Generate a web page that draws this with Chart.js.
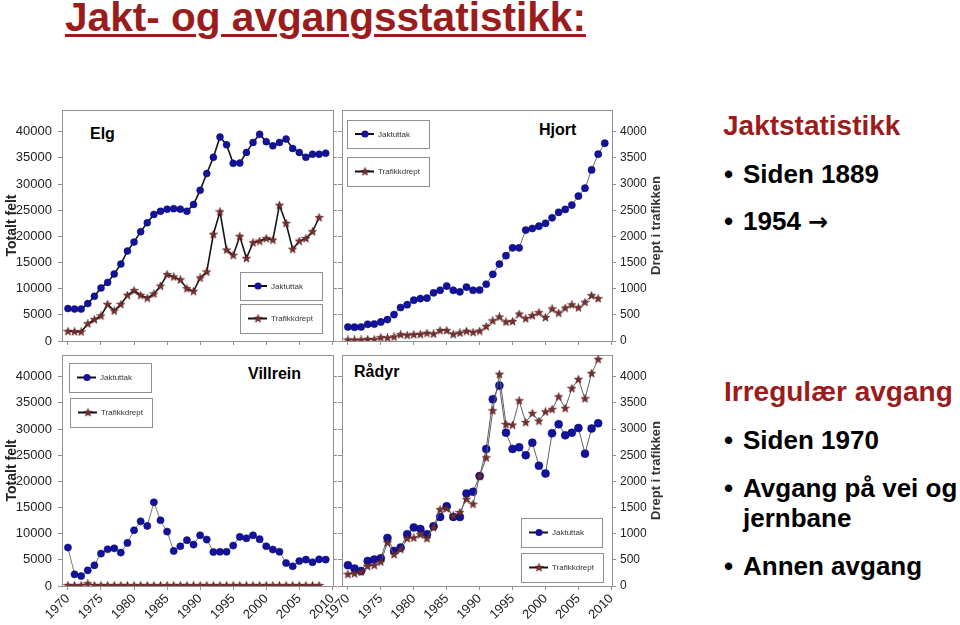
<!DOCTYPE html>
<html>
<head>
<meta charset="utf-8">
<script src="https://cdn.jsdelivr.net/npm/chart.js@4.4.1/dist/chart.umd.min.js"></script>
<style>
html, body { margin: 0; padding: 0; background: #fff; }
body { width: 960px; height: 625px; position: relative; overflow: hidden; font-family: "Liberation Sans", Arial, sans-serif; }
canvas { position: absolute; }
.t { position: absolute; white-space: nowrap; line-height: 1; font-weight: bold; color: #000; }
.red { color: #9b1c1c; }
.arrow { font-family: "DejaVu Sans", sans-serif; font-size: 24px; }
</style>
</head>
<body>
<div class="t red" style="left:65px;top:-3px;font-size:40.6px;text-decoration:underline;text-decoration-thickness:3px;text-underline-offset:3px;">Jakt- og avgangsstatistikk:</div>

<div class="t red" style="left:723px;top:112px;font-size:28px;">Jaktstatistikk</div>
<div class="t" style="left:724px;top:161px;font-size:26px;">•</div>
<div class="t" style="left:743px;top:161px;font-size:26px;">Siden 1889</div>
<div class="t" style="left:724px;top:208px;font-size:26px;">•</div>
<div class="t" style="left:743px;top:208px;font-size:26px;">1954 <span class="arrow">→</span></div>

<div class="t red" style="left:724px;top:378px;font-size:28px;">Irregulær avgang</div>
<div class="t" style="left:724px;top:427px;font-size:26px;">•</div>
<div class="t" style="left:743px;top:427px;font-size:26px;">Siden 1970</div>
<div class="t" style="left:724px;top:475px;font-size:26px;">•</div>
<div class="t" style="left:743px;top:475px;font-size:26px;">Avgang på vei og</div>
<div class="t" style="left:743px;top:505px;font-size:26px;">jernbane</div>
<div class="t" style="left:724px;top:553px;font-size:26px;">•</div>
<div class="t" style="left:743px;top:553px;font-size:26px;">Annen avgang</div>

<div class="t" style="left:90px;top:126px;font-size:16px;">Elg</div>
<div class="t" style="left:539px;top:122px;font-size:16px;">Hjort</div>
<div class="t" style="left:248px;top:366px;font-size:16px;">Villrein</div>
<div class="t" style="left:354px;top:364px;font-size:16px;">Rådyr</div>

<script>
// years on the x axis
const years = [1970, 1971, 1972, 1973, 1974, 1975, 1976, 1977, 1978, 1979,
    1980, 1981, 1982, 1983, 1984, 1985, 1986, 1987, 1988, 1989,
    1990, 1991, 1992, 1993, 1994, 1995, 1996, 1997, 1998, 1999,
    2000, 2001, 2002, 2003, 2004, 2005, 2006, 2007, 2008, 2009];

// Jaktuttak -> left axis (Totalt felt), Trafikkdrept -> right axis (Drept i trafikken)
const elgJakt = [6200, 6100, 6100, 7150, 8550, 10150, 11200, 12800, 14700, 17200,
    18900, 20900, 22600, 24200, 24800, 25200, 25300, 25200, 24800, 26100,
    28800, 32000, 35100, 39000, 37500, 33950, 34000, 36050, 37950, 39500,
    38100, 37300, 37950, 38600, 36800, 36050, 35100, 35700, 35700, 35900];
const elgTrafikk = [185, 180, 175, 330, 410, 480, 700, 575, 700, 875,
    965, 875, 820, 900, 1050, 1270, 1225, 1170, 1000, 950,
    1205, 1320, 2040, 2470, 1740, 1640, 2000, 1580, 1880, 1910,
    1960, 1930, 2595, 2250, 1755, 1910, 1960, 2090, 2360];

const hjortJakt = [2680, 2640, 2680, 3200, 3250, 3640, 4100, 5050, 6400, 6950,
    7800, 8100, 8200, 9200, 9700, 10500, 9700, 9400, 10300, 9700,
    9750, 10850, 12750, 14700, 16300, 17800, 17800, 21200, 21500, 21950,
    22500, 23550, 24600, 25150, 25970, 27700, 29200, 32700, 35700, 37800];
const hjortTrafikk = [20, 20, 20, 30, 28, 65, 60, 78, 122, 110,
    122, 128, 150, 135, 200, 200, 128, 153, 188, 165,
    190, 278, 385, 459, 364, 373, 515, 428, 485, 543,
    450, 614, 534, 630, 692, 636, 740, 868, 811];

const villreinJakt = [7350, 2240, 1910, 3000, 3960, 6200, 7020, 7200, 6390, 8230,
    10660, 12380, 11480, 16000, 12570, 10400, 6700, 7600, 8750, 7920,
    9700, 8880, 6500, 6550, 6550, 7730, 9380, 9130, 9700, 8940,
    7600, 6970, 6550, 4400, 3770, 4780, 5050, 4540, 5100, 5050];
const villreinTrafikk = [10, 10, 10, 45, 10, 10, 10, 10, 10, 10,
    10, 10, 10, 10, 10, 10, 10, 10, 10, 10,
    10, 10, 10, 10, 10, 10, 10, 10, 10, 10,
    10, 10, 10, 10, 10, 10, 10, 10, 10];

const radyrJakt = [3960, 3330, 2870, 4780, 5050, 5300, 9190, 6700, 7350, 9900,
    11180, 10900, 9900, 11430, 13200, 15250, 13200, 13200, 17700, 18000,
    21000, 26200, 35700, 38300, 29300, 26200, 26500, 25000, 27400, 23000,
    21500, 29200, 30900, 28800, 29300, 30200, 25300, 30100, 31100];
const radyrTrafikk = [224, 237, 268, 377, 396, 459, 830, 601, 702, 907,
    919, 984, 907, 1118, 1462, 1481, 1340, 1405, 1659, 1564,
    2100, 2450, 3350, 4046, 3089, 3076, 3541, 3127, 3300, 3152,
    3330, 3376, 3617, 3395, 3778, 3950, 3579, 4065, 4333];

const seriesNames = ["Jaktuttak", "Trafikkdrept"];
const leftTitle = "Totalt felt";
const rightTitle = "Drept i trafikken";
const leftTicks = [0, 5000, 10000, 15000, 20000, 25000, 30000, 35000, 40000];
const rightTicks = [0, 500, 1000, 1500, 2000, 2500, 3000, 3500, 4000];
const yearTicks = [1970, 1975, 1980, 1985, 1990, 1995, 2000, 2005, 2010];

const FONT = '"Liberation Sans", Arial, sans-serif';
Chart.defaults.font.family = FONT;
Chart.defaults.color = "#222";
Chart.defaults.animation = false;

const GRAY = "#8f8f8f";
const DOT = "#12129c";
const DOT_EDGE = "#0a0a66";

// small filled five point star for Trafikkdrept
function makeStar() {
    const c = document.createElement("canvas");
    c.width = 9; c.height = 9;
    const x = c.getContext("2d");
    x.beginPath();
    for (let i = 0; i < 10; i++) {
        const r = i % 2 ? 1.8 : 4.3;
        const a = -Math.PI / 2 + i * Math.PI / 5;
        x.lineTo(4.5 + r * Math.cos(a), 4.7 + r * Math.sin(a));
    }
    x.closePath();
    x.fillStyle = "#7a2d2d";
    x.fill();
    x.strokeStyle = "#4a1717";
    x.lineWidth = 0.6;
    x.stroke();
    return c;
}
const star = makeStar();

const frame = {
    id: "frame",
    beforeDatasetsDraw(chart) {
        const a = chart.chartArea, ctx = chart.ctx;
        ctx.save();
        ctx.strokeStyle = GRAY;
        ctx.lineWidth = 1;
        ctx.strokeRect(Math.round(a.left) + 0.5, Math.round(a.top) + 0.5,
            Math.round(a.right - a.left), Math.round(a.bottom - a.top));
        ctx.restore();
    }
};

const boxLegend = {
    id: "boxLegend",
    afterDatasetsDraw(chart, args, opts) {
        const ctx = chart.ctx;
        (opts.boxes || []).forEach((b) => {
            const ds = chart.data.datasets.find((d) => d.label === b.label);
            const cy = b.y + b.h / 2;
            ctx.save();
            ctx.fillStyle = "#fff";
            ctx.fillRect(b.x, b.y, b.w, b.h);
            ctx.strokeStyle = GRAY;
            ctx.lineWidth = 1;
            ctx.strokeRect(b.x + 0.5, b.y + 0.5, b.w, b.h);
            ctx.strokeStyle = "#111";
            ctx.lineWidth = 2;
            ctx.beginPath();
            ctx.moveTo(b.x + 8, cy);
            ctx.lineTo(b.x + 27, cy);
            ctx.stroke();
            if (ds.pointStyle === "circle") {
                ctx.beginPath();
                ctx.arc(b.x + 18, cy, 3.6, 0, Math.PI * 2);
                ctx.fillStyle = DOT;
                ctx.fill();
            } else {
                ctx.drawImage(star, b.x + 13.5, cy - 4.5);
            }
            ctx.font = "8px " + FONT;
            ctx.fillStyle = "#333";
            ctx.textBaseline = "middle";
            ctx.fillText(ds.label, b.x + 31, cy + 0.5);
            ctx.restore();
        });
    }
};

const sideTitle = {
    id: "sideTitle",
    afterDraw(chart, args, opts) {
        if (!opts.text) return;
        const a = chart.chartArea, ctx = chart.ctx;
        ctx.save();
        ctx.translate(a.right + opts.offset, (a.top + a.bottom) / 2);
        ctx.rotate(-Math.PI / 2);
        ctx.font = "bold 13px " + FONT;
        ctx.fillStyle = "#333";
        ctx.textAlign = "center";
        ctx.textBaseline = "middle";
        ctx.fillText(opts.text, 0, 0);
        ctx.restore();
    }
};

function zeroPad(s) {
    s.paddingTop = 0; s.paddingBottom = 0; s.paddingLeft = 0; s.paddingRight = 0;
}

function fixedTicks(list) {
    return (s) => { s.ticks = list.map((v) => ({ value: v })); };
}

function points(vals) {
    return vals.map((v, i) => ({ x: years[i], y: v }));
}

function panel(p) {
    const c = document.createElement("canvas");
    c.width = p.w; c.height = p.h;
    c.style.left = p.x + "px";
    c.style.top = p.y + "px";
    document.body.appendChild(c);

    const datasets = [
        {
            label: seriesNames[1],
            data: points(p.trafikk),
            yAxisID: "y2",
            order: 0,
            borderColor: p.line,
            borderWidth: p.lw,
            pointStyle: star,
            pointRadius: 4,
        },
        {
            label: seriesNames[0],
            data: points(p.jakt),
            yAxisID: "y",
            order: 1,
            borderColor: p.line,
            borderWidth: p.lw,
            pointStyle: "circle",
            pointRadius: p.dot,
            pointBackgroundColor: DOT,
            pointBorderColor: DOT_EDGE,
            pointBorderWidth: 0.5,
        },
    ];

    const tickGrid = { display: true, drawOnChartArea: false, drawTicks: true, tickLength: 4, color: GRAY };

    new Chart(c, {
        type: "line",
        data: { datasets },
        options: {
            responsive: false,
            devicePixelRatio: 1,
            layout: { padding: { top: 10, left: 0, right: 0, bottom: 0 } },
            elements: { line: { tension: 0 } },
            scales: {
                x: {
                    type: "linear",
                    min: 1969.1,
                    max: 2010.1,
                    grid: tickGrid,
                    border: { display: false },
                    afterBuildTicks: fixedTicks(yearTicks),
                    ticks: {
                        display: p.xLabels,
                        autoSkip: false,
                        minRotation: 45,
                        maxRotation: 45,
                        padding: 1,
                        color: "#222",
                        font: { size: 13 },
                        callback: (v) => String(v),
                    },
                    afterFit: (s) => { s.height = p.xH; zeroPad(s); },
                },
                y: {
                    position: "left",
                    min: 0,
                    max: 44150,
                    grid: tickGrid,
                    border: { display: false },
                    afterBuildTicks: fixedTicks(leftTicks),
                    ticks: {
                        display: p.leftLabels,
                        padding: 6,
                        color: "#222",
                        font: { size: 13 },
                        callback: (v) => String(v),
                    },
                    title: {
                        display: p.leftLabels,
                        text: leftTitle,
                        color: "#222",
                        font: { size: 14, weight: "bold" },
                        padding: { top: 4, bottom: 0 },
                    },
                    afterFit: (s) => { s.width = p.leftW; zeroPad(s); },
                },
                y2: {
                    position: "right",
                    min: 0,
                    max: 4415,
                    grid: tickGrid,
                    border: { display: false },
                    afterBuildTicks: fixedTicks(rightTicks),
                    ticks: {
                        display: p.rightLabels,
                        padding: 4,
                        color: "#222",
                        font: { size: 12 },
                        callback: (v) => String(v),
                    },
                    afterFit: (s) => { s.width = p.rightW; zeroPad(s); },
                },
            },
            plugins: {
                legend: { display: false },
                tooltip: { enabled: false },
                boxLegend: { boxes: p.boxes },
                sideTitle: { text: p.rightLabels ? rightTitle : "", offset: 44 },
            },
        },
        plugins: [frame, boxLegend, sideTitle],
    });
}

// Elg
panel({
    x: 0, y: 100, w: 340, h: 250, leftW: 62, rightW: 7, xH: 9,
    leftLabels: true, rightLabels: false, xLabels: false,
    jakt: elgJakt, trafikk: elgTrafikk, line: "#161616", lw: 1.6, dot: 3.5,
    boxes: [
        { label: seriesNames[0], x: 240, y: 172, w: 82, h: 28 },
        { label: seriesNames[1], x: 240, y: 204, w: 82, h: 29 },
    ],
});
// Hjort
panel({
    x: 335, y: 100, w: 335, h: 250, leftW: 7, rightW: 58, xH: 9,
    leftLabels: false, rightLabels: true, xLabels: false,
    jakt: hjortJakt, trafikk: hjortTrafikk, line: "#6e6e6e", lw: 1, dot: 3.6,
    boxes: [
        { label: seriesNames[0], x: 12, y: 20, w: 82, h: 28 },
        { label: seriesNames[1], x: 12, y: 57, w: 82, h: 29 },
    ],
});
// Villrein
panel({
    x: 0, y: 345, w: 340, h: 280, leftW: 62, rightW: 7, xH: 39,
    leftLabels: true, rightLabels: false, xLabels: true,
    jakt: villreinJakt, trafikk: villreinTrafikk, line: "#7a7470", lw: 1, dot: 3.6,
    boxes: [
        { label: seriesNames[0], x: 69, y: 18, w: 82, h: 29 },
        { label: seriesNames[1], x: 70, y: 53, w: 82, h: 29 },
    ],
});
// Rådyr
panel({
    x: 300, y: 345, w: 370, h: 280, leftW: 42, rightW: 58, xH: 39,
    leftLabels: false, rightLabels: true, xLabels: true,
    jakt: radyrJakt, trafikk: radyrTrafikk, line: "#606060", lw: 1, dot: 4,
    boxes: [
        { label: seriesNames[0], x: 221, y: 173, w: 81, h: 29 },
        { label: seriesNames[1], x: 221, y: 208, w: 82, h: 29 },
    ],
});
</script>
</body>
</html>
